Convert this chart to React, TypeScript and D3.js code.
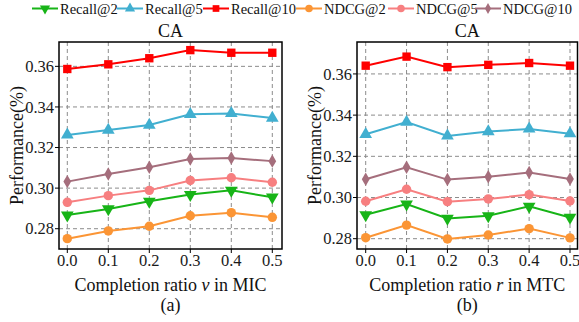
import * as d3 from 'd3';

const ratios = [0.0, 0.1, 0.2, 0.3, 0.4, 0.5];
const seriesNames = ['Recall@2', 'Recall@5', 'Recall@10', 'NDCG@2', 'NDCG@5', 'NDCG@10'];
const seriesColors = ['#17b417', '#41afd0', '#ff0000', '#fb9535', '#f77f80', '#a56e7c'];
const seriesShapes = ['triDown', 'triUp', 'square', 'circle', 'circle', 'diamond'];
const yTicks = [0.28, 0.3, 0.32, 0.34, 0.36];

// (a) completion ratio v in MIC
const micRecall2 = [0.2867, 0.2897, 0.2935, 0.2968, 0.2989, 0.2955];
const micRecall5 = [0.3262, 0.3286, 0.3311, 0.3364, 0.3368, 0.3345];
const micRecall10 = [0.3587, 0.361, 0.364, 0.368, 0.3667, 0.3667];
const micNdcg2 = [0.2751, 0.2789, 0.2812, 0.2864, 0.2879, 0.2856];
const micNdcg5 = [0.293, 0.2963, 0.2989, 0.3038, 0.3051, 0.3029];
const micNdcg10 = [0.3032, 0.307, 0.3103, 0.3143, 0.3148, 0.3133];

// (b) completion ratio r in MTC
const mtcRecall2 = [0.2916, 0.2968, 0.2898, 0.2911, 0.2957, 0.2903];
const mtcRecall5 = [0.3307, 0.3366, 0.3299, 0.332, 0.3333, 0.331];
const mtcRecall10 = [0.364, 0.3684, 0.3633, 0.3644, 0.3653, 0.364];
const mtcNdcg2 = [0.2805, 0.2866, 0.2799, 0.2818, 0.2849, 0.2804];
const mtcNdcg5 = [0.2982, 0.304, 0.298, 0.2993, 0.3014, 0.2983];
const mtcNdcg10 = [0.3089, 0.3147, 0.3087, 0.3101, 0.3121, 0.309];

const serif = { fontFamily: '"Liberation Serif", "Times New Roman", serif' };

function symbolPath(shape: string, size: number) {
  if (shape === 'triDown' || shape === 'triUp') return d3.symbol(d3.symbolTriangle, size)() || '';
  if (shape === 'square') return d3.symbol(d3.symbolSquare, size)() || '';
  if (shape === 'diamond') return d3.symbol(d3.symbolDiamond, size * 0.75)() || '';
  return d3.symbol(d3.symbolCircle, size)() || '';
}

function Marker({ shape, color, x, y, size }: any) {
  const rot = shape === 'triDown' ? 180 : 0;
  return (
    <path d={symbolPath(shape, size)} transform={`translate(${x},${y}) rotate(${rot})`} fill={color} />
  );
}

function Panel({ data, frame, yDomain, xRange, varName, method, tag }: any) {
  const x = d3.scaleLinear().domain([0, 0.5]).range(xRange);
  const y = d3.scaleLinear().domain(yDomain).range([frame.bottom, frame.top]);
  const line = d3.line<number>().x((_, i) => x(ratios[i])).y((d) => y(d));
  const cx = (frame.left + frame.right) / 2;
  return (
    <g>
      {ratios.map((r) => (
        <line key={'vx' + r} x1={x(r)} x2={x(r)} y1={frame.top} y2={frame.bottom}
          stroke="#8c8c8c" strokeWidth={1} strokeDasharray="4,3" />
      ))}
      {yTicks.map((t) => (
        <line key={'hy' + t} x1={frame.left} x2={frame.right} y1={y(t)} y2={y(t)}
          stroke="#8c8c8c" strokeWidth={1} strokeDasharray="4,3" />
      ))}
      {data.map((vals: number[], si: number) => (
        <g key={si}>
          <path d={line(vals) || ''} fill="none" stroke={seriesColors[si]} strokeWidth={2} />
          {vals.map((v, i) => (
            <Marker key={i} shape={seriesShapes[si]} color={seriesColors[si]}
              x={x(ratios[i])} y={y(v)} size={70} />
          ))}
        </g>
      ))}
      <rect x={frame.left} y={frame.top} width={frame.right - frame.left}
        height={frame.bottom - frame.top} fill="none" stroke="#000" strokeWidth={1.5} />
      {yTicks.map((t) => (
        <g key={'yt' + t}>
          <line x1={frame.left - 4} x2={frame.left} y1={y(t)} y2={y(t)} stroke="#000" strokeWidth={1} />
          <text x={frame.left - 5} y={y(t)} dy="0.35em" textAnchor="end" fontSize={16.5} fill="#1a1a1a" style={serif}>
            {d3.format('.2f')(t)}
          </text>
        </g>
      ))}
      {ratios.map((r) => (
        <g key={'xt' + r}>
          <line x1={x(r)} x2={x(r)} y1={frame.bottom} y2={frame.bottom + 4} stroke="#000" strokeWidth={1} />
          <text x={x(r)} y={frame.bottom + 11} dy="0.35em" textAnchor="middle" fontSize={16.5} fill="#1a1a1a" style={serif}>
            {d3.format('.1f')(r)}
          </text>
        </g>
      ))}
      <text x={cx} y={31} dy="0.35em" textAnchor="middle" fontSize={18} fill="#111" style={serif}>CA</text>
      <text x={cx} y={285} dy="0.35em" textAnchor="middle" fontSize={18} fill="#111" style={serif}>
        Completion ratio <tspan fontStyle="italic">{varName}</tspan> in {method}
      </text>
      <text x={cx} y={305} dy="0.35em" textAnchor="middle" fontSize={18} fill="#111" style={serif}>{tag}</text>
      <text transform={`translate(${frame.left - 42},${(frame.top + frame.bottom) / 2}) rotate(-90)`}
        dy="0.35em" textAnchor="middle" fontSize={18} fill="#111" style={serif}>
        Performance(%)
      </text>
    </g>
  );
}

const legendStarts = [32, 117, 203, 296, 388, 475];

export default function App() {
  const micData = [micRecall2, micRecall5, micRecall10, micNdcg2, micNdcg5, micNdcg10];
  const mtcData = [mtcRecall2, mtcRecall5, mtcRecall10, mtcNdcg2, mtcNdcg5, mtcNdcg10];
  return (
    <svg width={579} height={322} style={{ position: 'absolute', left: 0, top: 0, background: '#fff' }}>
      <g>
        {seriesNames.map((name, i) => (
          <g key={name}>
            <line x1={legendStarts[i]} x2={legendStarts[i] + 26} y1={8.5} y2={8.5}
              stroke={seriesColors[i]} strokeWidth={2} />
            <Marker shape={seriesShapes[i]} color={seriesColors[i]} x={legendStarts[i] + 13} y={8.5} size={45} />
            <text x={legendStarts[i] + 28} y={8.5} dy="0.35em" fontSize={14.5} fill="#111" style={serif}>{name}</text>
          </g>
        ))}
      </g>
      <Panel data={micData} frame={{ left: 59, right: 282, top: 42, bottom: 249 }}
        yDomain={[0.27, 0.372]} xRange={[67.3, 272.3]} varName="v" method="MIC" tag="(a)" />
      <Panel data={mtcData} frame={{ left: 357, right: 577.5, top: 42, bottom: 249 }}
        yDomain={[0.275, 0.3755]} xRange={[365.7, 570]} varName="r" method="MTC" tag="(b)" />
    </svg>
  );
}
